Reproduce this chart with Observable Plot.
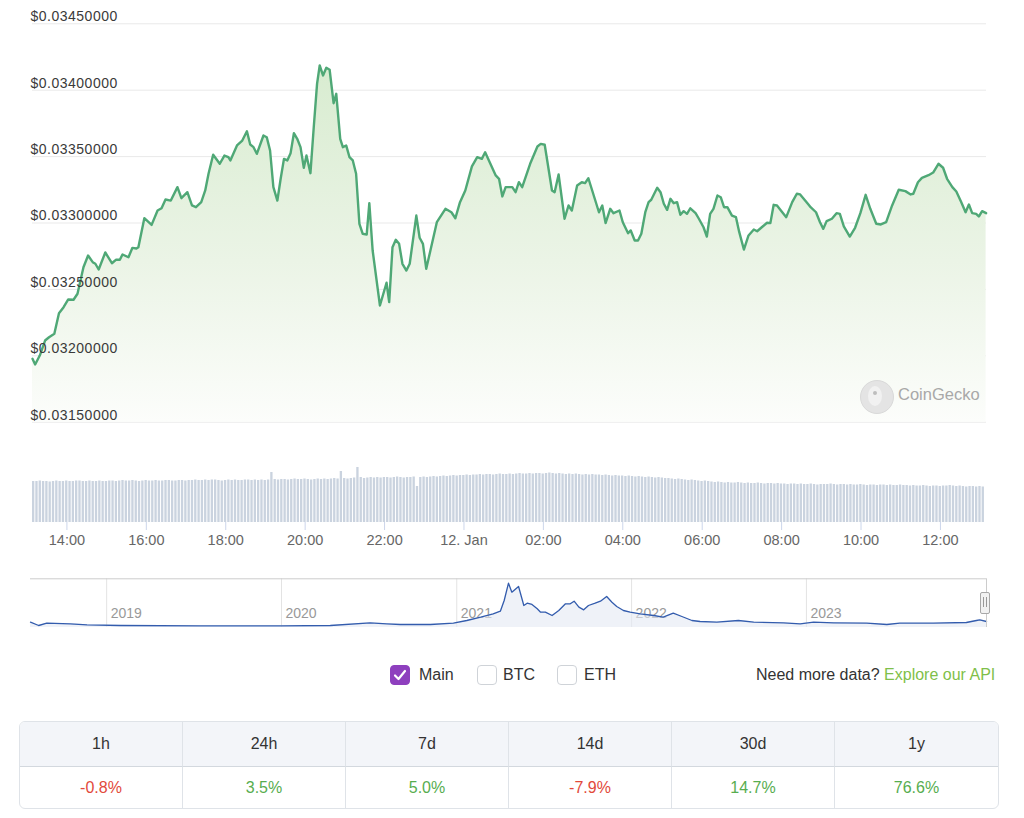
<!DOCTYPE html>
<html>
<head>
<meta charset="utf-8">
<script src="https://cdn.jsdelivr.net/npm/d3@7"></script>
<script src="https://cdn.jsdelivr.net/npm/@observablehq/plot@0.6"></script>
<style>
  html, body { margin: 0; padding: 0; background: #fff; width: 1024px; height: 818px; overflow: hidden; }
  body { position: relative; font-family: "Liberation Sans", Arial, Helvetica, sans-serif; }
  .abs { position: absolute; }
  #main svg text { letter-spacing: 0.5px; }
  .cb { position: absolute; width: 18px; height: 18px; border: 1px solid #cfd3d8; border-radius: 4px; background: #fff; }
  .cbl { position: absolute; font-size: 16px; color: #333; line-height: 20px; }
  #tbl { position: absolute; left: 19px; top: 721px; width: 978px; height: 86px; border: 1px solid #dfe3e8; border-radius: 6px; overflow: hidden; display: grid; grid-template-columns: repeat(6, 1fr); grid-template-rows: 45px 41px; font-size: 16px; }
  #tbl div { display: flex; align-items: center; justify-content: center; }
  #tbl .h { background: #f3f5f9; color: #333; border-bottom: 1px solid #d3d8de; }
  #tbl .c { border-right: 1px solid #dfe3e8; }
</style>
</head>
<body>
<div id="main" class="abs" style="left:0;top:0"></div>
<div id="vol" class="abs" style="left:0;top:440px"></div>
<div id="nav" class="abs" style="left:0;top:570px"></div>

<!-- CoinGecko watermark -->
<div class="abs" style="left:860px;top:380px;width:32px;height:32px;border-radius:50%;background:#e4e4e4;border:1px solid #d9d9d9"></div>
<div class="abs" style="left:868px;top:386px;width:14px;height:20px;border-radius:50%;background:#f1f1f1"></div>
<div class="abs" style="left:873px;top:391px;width:4px;height:4px;border-radius:50%;background:#bdbdbd"></div>
<div class="abs" style="left:898px;top:385px;font-size:16.5px;color:#a8a8a8;">CoinGecko</div>

<!-- navigator handle -->
<div class="abs" style="left:980px;top:592px;width:8px;height:20px;background:#f2f2f2;border:1px solid #a8a8a8;border-radius:2px"></div>
<div class="abs" style="left:983px;top:597px;width:1px;height:10px;background:#999"></div>
<div class="abs" style="left:986px;top:597px;width:1px;height:10px;background:#999"></div>

<!-- series toggles -->
<div class="cb" style="left:390px;top:665px;background:#8e3fbe;border-color:#8e3fbe">
  <svg width="18" height="18" viewBox="0 0 18 18"><path d="M4 9.5 L7.5 13 L14 5" stroke="#fff" stroke-width="2.2" fill="none" stroke-linecap="round" stroke-linejoin="round"/></svg>
</div>
<div class="cbl" style="left:419px;top:665px">Main</div>
<div class="cb" style="left:477px;top:665px"></div>
<div class="cbl" style="left:503px;top:665px">BTC</div>
<div class="cb" style="left:557px;top:665px"></div>
<div class="cbl" style="left:584px;top:665px">ETH</div>
<div class="cbl" style="left:756px;top:665px">Need more data? <span style="color:#7fbf4a">Explore our API</span></div>

<div id="tbl"></div>

<script>
// ---------- DATA ----------
// price line: minutes after 2024-01-11 13:00 UTC, price in USD
const priceMinute = [8,12,19,27,33,41,48,55,62,70,76,85,92,99,103,108,118,128,134,140,144,153,159,165,168,177,188,197,203,209,217,227,233,242,249,255,263,269,274,281,291,298,304,307,317,325,332,337,342,347,357,362,367,372,378,383,388,393,398,403,408,413,418,422,428,433,438,442,447,452,457,463,467,473,477,482,487,492,497,502,507,513,517,522,533,543,547,552,557,562,567,573,578,588,593,598,603,619,632,641,647,654,662,672,680,687,692,708,713,718,723,733,738,743,748,760,771,776,782,793,797,803,812,818,823,831,838,843,848,864,869,874,881,886,895,900,908,912,918,923,928,934,939,943,952,957,962,967,972,977,982,987,992,997,1002,1010,1015,1022,1027,1032,1037,1043,1048,1053,1058,1065,1071,1076,1083,1090,1098,1103,1110,1118,1123,1128,1133,1141,1147,1156,1163,1168,1179,1183,1192,1198,1203,1208,1216,1223,1228,1234,1243,1251,1259,1267,1274,1283,1290,1298,1307,1317,1327,1335,1339,1346,1352,1362,1369,1377,1384,1390,1398,1404,1411,1418,1423,1428,1434,1438,1443,1449];
const priceValue = [0.031977,0.031935,0.032002,0.032115,0.032140,0.032166,0.032321,0.032366,0.032424,0.032422,0.032467,0.032667,0.032755,0.032705,0.032693,0.032650,0.032778,0.032697,0.032723,0.032723,0.032763,0.032742,0.032813,0.032808,0.032818,0.033036,0.032986,0.033094,0.033111,0.033177,0.033169,0.033270,0.033187,0.033232,0.033132,0.033119,0.033157,0.033245,0.033371,0.033514,0.033446,0.033508,0.033496,0.033471,0.033584,0.033621,0.033691,0.033591,0.033571,0.033521,0.033659,0.033646,0.033546,0.033270,0.033169,0.033333,0.033483,0.033471,0.033526,0.033676,0.033634,0.033571,0.033416,0.033508,0.033375,0.033721,0.034048,0.034186,0.034111,0.034169,0.034154,0.033902,0.033973,0.033634,0.033571,0.033584,0.033496,0.033471,0.033371,0.032994,0.032919,0.032913,0.033149,0.032793,0.032379,0.032550,0.032404,0.032818,0.032874,0.032843,0.032693,0.032642,0.032693,0.033056,0.032889,0.032843,0.032655,0.033006,0.033107,0.033081,0.033036,0.033157,0.033245,0.033426,0.033496,0.033483,0.033533,0.033358,0.033333,0.033200,0.033270,0.033270,0.033232,0.033307,0.033270,0.033446,0.033576,0.033596,0.033589,0.033245,0.033232,0.033365,0.033032,0.033132,0.033094,0.033282,0.033307,0.033300,0.033337,0.033081,0.033132,0.032999,0.033107,0.033074,0.033094,0.033006,0.032923,0.032944,0.032868,0.032868,0.032919,0.033081,0.033157,0.033175,0.033265,0.033232,0.033145,0.033099,0.033182,0.033149,0.033157,0.033062,0.033089,0.033069,0.033111,0.033074,0.033032,0.032968,0.032898,0.033069,0.033107,0.033207,0.033194,0.033119,0.033119,0.033056,0.033044,0.032931,0.032800,0.032906,0.032951,0.032938,0.032968,0.033002,0.032999,0.033137,0.033132,0.033081,0.033044,0.033157,0.033220,0.033215,0.033149,0.033124,0.033081,0.033006,0.032956,0.033014,0.033032,0.033074,0.033069,0.032974,0.032898,0.032964,0.033074,0.033212,0.033107,0.032994,0.032989,0.033006,0.033132,0.033250,0.033240,0.033215,0.033220,0.033307,0.033340,0.033360,0.033380,0.033446,0.033416,0.033333,0.033270,0.033237,0.033162,0.033081,0.033139,0.033074,0.033069,0.033049,0.033089,0.033074];

// y-axis ticks (USD)
const priceTicks = [0.0315,0.032,0.0325,0.033,0.0335,0.034,0.0345];
// visible time window, minutes after 2024-01-11 13:00 UTC
const windowMinutes = [8, 1449.6];
// time-axis ticks
const timeTicks = ["2024-01-11T14:00Z","2024-01-11T16:00Z","2024-01-11T18:00Z","2024-01-11T20:00Z","2024-01-11T22:00Z","2024-01-12T00:00Z","2024-01-12T02:00Z","2024-01-12T04:00Z","2024-01-12T06:00Z","2024-01-12T08:00Z","2024-01-12T10:00Z","2024-01-12T12:00Z"];

// volume bars: one every 5 minutes starting at minute 8 (relative units)
const volumeStartMinute = 8, volumeStepMinutes = 5;
const volumeValue = [
41,41,41.5,41,41,40.5,41,41.5,41,41,41.5,41,41,41.5,41.5,41,41,41.5,41,41,41.5,41,41,41.5,
41.5,41,41.5,42,41.5,41.5,42,41.5,41,41.5,42,41.5,41.5,42,41.5,41.5,42,42,41.5,41.5,42,42,41.5,42,
42,42.5,42,42,42.5,42,42.5,42.5,42,41.5,42,42.5,42,42.5,42,42,42.5,42.5,42,42.5,42,42.5,42,42.5,
50,43,42.5,43,43,42.5,43,43.5,43,43,43.5,43,42.5,43,43.5,43,43.5,43,43.5,44,43.5,51,44,43.5,
44,44.5,55,45,44,44.5,45,44.5,45,44.5,45,45,44.5,45,45.5,45,44.5,45,45,45.5,36,45,45.5,45,
45.5,46,45.5,46,46.5,46,46.5,47,46.5,47,47,47.5,47,47.5,47.5,48,47.5,48,48,47.5,48,48.5,48,48,
48.5,48,48.5,49,48.5,48.5,49,48.5,49,49,48.5,49,49.5,49,48.5,49,48.5,48,48.5,48,48.5,48,47.5,48,
47.5,48,47.5,47.5,47,47.5,47,46.5,47,46.5,46.5,46,46.5,46,45.5,46,45.5,45,45.5,45,44.5,45,44.5,44,
44,43.5,43,43.5,43,42.5,42,42.5,42,41.5,41,41.5,41,40.5,40,40.5,40,39.5,40,39.5,39.5,40,39.5,39,
39.5,39,39,39.5,39,38.5,39,39,38.5,39,38.5,38.5,38,38.5,38.5,38,38.5,38,38,38.5,38,37.5,38,38,
38,38.5,38,37.5,38,38,37.5,38,37.5,37.5,38,37.5,37,37.5,37.5,37,37.5,37.5,37,37.5,37,37,37.5,37,
37,36.5,37,36.5,36.5,37,36.5,36,36.5,36.5,36,36.5,36.5,37,36.5,36,36.5,36,35.5,36,36,35.5,36,35.5
];

// navigator (full history)
const navDate = ["2018-07-26","2018-08-12","2018-08-29","2018-10-17","2018-11-21","2019-01-30","2019-07-15","2020-01-01","2020-04-12","2020-07-04","2020-08-08","2020-09-05","2020-11-07","2020-12-25","2021-01-22","2021-02-20","2021-03-18","2021-04-02","2021-04-10","2021-04-19","2021-04-26","2021-05-10","2021-05-21","2021-05-28","2021-06-07","2021-06-18","2021-06-25","2021-07-05","2021-07-19","2021-08-02","2021-08-16","2021-08-26","2021-09-03","2021-09-13","2021-09-23","2021-10-03","2021-10-17","2021-10-28","2021-11-10","2021-11-21","2021-12-01","2021-12-15","2021-12-29","2022-01-19","2022-02-16","2022-03-08","2022-03-29","2022-04-16","2022-05-07","2022-05-24","2022-06-28","2022-08-12","2022-09-13","2022-11-14","2022-12-19","2023-01-16","2023-02-27","2023-05-07","2023-06-18","2023-07-15","2023-09-23","2023-12-01","2023-12-22","2023-12-29","2024-01-12"];
const navValue = [0.0281,0.0142,0.0239,0.0213,0.0171,0.0142,0.0129,0.0129,0.0142,0.0255,0.0213,0.0184,0.0184,0.0239,0.0352,0.0491,0.0633,0.0743,0.1192,0.1919,0.1541,0.1780,0.0982,0.1079,0.1024,0.0843,0.0701,0.0701,0.0562,0.0772,0.1053,0.1053,0.1163,0.0911,0.0801,0.0982,0.1079,0.1163,0.1360,0.1121,0.0940,0.0772,0.0701,0.0633,0.0562,0.0491,0.0659,0.0520,0.0352,0.0310,0.0281,0.0352,0.0281,0.0255,0.0213,0.0281,0.0255,0.0239,0.0184,0.0239,0.0239,0.0268,0.0352,0.0381,0.0310];
const navWindow = ["2018-07-26","2024-01-12"];
const navYDomain = [0.0058, 0.2103];
const yearTicks = ["2019-01-01","2020-01-01","2021-01-01","2022-01-01","2023-01-01"];

// price change table
const periods = ["1h","24h","7d","14d","30d","1y"];
const changes = [-0.8, 3.5, 5.0, -7.9, 14.7, 76.6];

// ---------- BUILD ----------
const t0 = Date.UTC(2024, 0, 11, 13, 0);
const toDate = m => new Date(t0 + m * 60000);
const priceData = priceMinute.map((m, i) => ({t: toDate(m), p: priceValue[i]}));
const xDomain = windowMinutes.map(toDate);
const volData = volumeValue.map((v, i) => {
  const m = volumeStartMinute + i * volumeStepMinutes;
  return {t1: toDate(m), t2: toDate(m + volumeStepMinutes * 0.7), v};
});

const mainPlot = Plot.plot({
  width: 1024, height: 430,
  marginLeft: 32, marginRight: 38, marginTop: 23.3, marginBottom: 8.3,
  style: {fontFamily: "'Liberation Sans', Arial, sans-serif", background: "transparent"},
  x: {type: "utc", domain: xDomain, axis: null},
  y: {domain: [priceTicks[0], priceTicks[priceTicks.length - 1]], axis: null},
  marks: [
    Plot.gridY(priceTicks, {stroke: "#e9e9e9", strokeOpacity: 1}),
    Plot.areaY(priceData, {x: "t", y1: priceTicks[0], y2: "p", fill: "url(#priceGrad)"}),
    Plot.lineY(priceData, {x: "t", y: "p", stroke: "#4fa876", strokeWidth: 2.4, strokeLinejoin: "round"}),
    Plot.axisY(priceTicks, {anchor: "left", label: null, tickSize: 0, tickPadding: 0, textAnchor: "start", dx: -2, dy: -7,
      tickFormat: d => "$" + d.toFixed(8), fill: "#3a3a3a", fontSize: 14})
  ]
});
d3.select(mainPlot).insert("defs", ":first-child").html(
  '<linearGradient id="priceGrad" x1="0" y1="0" x2="0" y2="1">' +
  '<stop offset="0" stop-color="#d8ecd0"/><stop offset="0.55" stop-color="#ebf4e6"/><stop offset="1" stop-color="#fcfdfb"/></linearGradient>');
document.getElementById("main").appendChild(mainPlot);

const fmtHour = d3.utcFormat("%H:%M"), fmtDay = d3.utcFormat("%-d. %b");
const volPlot = Plot.plot({
  width: 1024, height: 115,
  marginLeft: 32, marginRight: 38, marginTop: 0, marginBottom: 33,
  style: {fontFamily: "'Liberation Sans', Arial, sans-serif", background: "transparent"},
  x: {type: "utc", domain: xDomain, axis: null},
  y: {domain: [0, 82], axis: null},
  marks: [
    Plot.rectY(volData, {x1: "t1", x2: "t2", y: "v", fill: "#cad3df"}),
    Plot.axisX(timeTicks.map(s => new Date(s)), {anchor: "bottom", label: null, tickSize: 8, tickPadding: 4, stroke: "#ccd6eb",
      fill: "#666", fontSize: 14.5, tickFormat: d => d.getUTCHours() === 0 ? fmtDay(d) : fmtHour(d)})
  ]
});
document.getElementById("vol").appendChild(volPlot);

const navData = navDate.map((d, i) => ({t: new Date(d + "T00:00Z"), v: navValue[i]}));
const years = yearTicks.map(d => new Date(d + "T00:00Z"));
const navPlot = Plot.plot({
  width: 1024, height: 62,
  marginLeft: 30, marginRight: 38, marginTop: 8.3, marginBottom: 5,
  style: {fontFamily: "'Liberation Sans', Arial, sans-serif", background: "transparent"},
  x: {type: "utc", domain: navWindow.map(d => new Date(d + "T00:00Z")), axis: null},
  y: {domain: navYDomain, axis: null},
  marks: [
    Plot.ruleX(years, {stroke: "#e3e3e3"}),
    Plot.text(years, {x: d => d, text: d => String(d.getUTCFullYear()), frameAnchor: "bottom", dy: -10, dx: 4,
      textAnchor: "start", fill: "#999", fontSize: 14}),
    Plot.areaY(navData, {x: "t", y1: navYDomain[0], y2: "v", fill: "#e4e9f4", fillOpacity: 0.6}),
    Plot.lineY(navData, {x: "t", y: "v", stroke: "#335cad", strokeWidth: 1.3}),
    Plot.ruleY([navYDomain[1]], {stroke: "#cccccc"}),
    Plot.ruleX([navWindow[1]].map(d => new Date(d + "T00:00Z")), {stroke: "#cccccc"})
  ]
});
document.getElementById("nav").appendChild(navPlot);

// table
const tbl = document.getElementById("tbl");
periods.forEach((p, i) => {
  const c = document.createElement("div");
  c.className = "h" + (i < periods.length - 1 ? " c" : "");
  c.textContent = p;
  tbl.appendChild(c);
});
changes.forEach((v, i) => {
  const c = document.createElement("div");
  c.className = i < changes.length - 1 ? "c" : "";
  c.textContent = v.toFixed(1) + "%";
  c.style.color = v < 0 ? "#e2493b" : "#57ad4f";
  tbl.appendChild(c);
});
</script>
</body>
</html>
